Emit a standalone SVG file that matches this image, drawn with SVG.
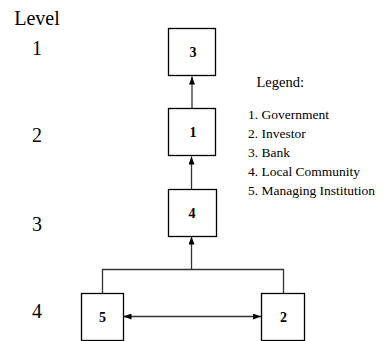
<svg xmlns="http://www.w3.org/2000/svg" width="386" height="341" viewBox="0 0 386 341">
  <defs>
    <style>
      .box { fill: #ffffff; stroke: #000000; stroke-width: 1.3; }
      .lbl { font-family: "Liberation Serif", "Times New Roman", serif; font-weight: bold; font-size: 14px; text-anchor: middle; fill: #000; }
      .lvl { font-family: "Liberation Serif", "Times New Roman", serif; font-size: 20px; text-anchor: middle; fill: #000; }
      .leg { font-family: "Liberation Serif", "Times New Roman", serif; font-size: 13.5px; fill: #000; }
      .wire { fill: none; stroke: #333333; stroke-width: 1.3; }
    </style>
    <marker id="head" viewBox="0 0 8 6" refX="8" refY="3" markerWidth="8" markerHeight="6" markerUnits="userSpaceOnUse" orient="auto-start-reverse">
      <path d="M0,0 L8,3 L0,6 Z" fill="#000"/>
    </marker>
  </defs>

  <rect width="386" height="341" fill="#ffffff"/>

  <!-- level scale -->
  <g id="levels">
    <text class="lvl" x="37" y="25">Level</text>
    <text class="lvl" x="37" y="55">1</text>
    <text class="lvl" x="37" y="142">2</text>
    <text class="lvl" x="37" y="231">3</text>
    <text class="lvl" x="37" y="318">4</text>
  </g>

  <!-- connectors -->
  <g id="connectors">
    <line class="wire" x1="192" y1="108.5" x2="192" y2="76.5" marker-end="url(#head)"/>
    <line class="wire" x1="191.5" y1="189.5" x2="191.5" y2="156.5" marker-end="url(#head)"/>
    <polyline class="wire" points="102.5,293.5 102.5,269.5 283.5,269.5 283.5,293.5"/>
    <line class="wire" x1="191.5" y1="269.5" x2="191.5" y2="236.5" marker-end="url(#head)"/>
    <line class="wire" x1="123.5" y1="316.5" x2="261" y2="316.5" marker-start="url(#head)" marker-end="url(#head)"/>
  </g>

  <g id="node-3">
    <rect class="box" x="168.5" y="28.5" width="47" height="47"/>
    <text class="lbl" x="193" y="57">3</text>
  </g>
  <g id="node-1">
    <rect class="box" x="168.5" y="108.5" width="47" height="47"/>
    <text class="lbl" x="193" y="137">1</text>
  </g>
  <g id="node-4">
    <rect class="box" x="168.5" y="189.5" width="48" height="47"/>
    <text class="lbl" x="192" y="217.5">4</text>
  </g>
  <g id="node-5">
    <rect class="box" x="81.5" y="293.5" width="42" height="47"/>
    <text class="lbl" x="102.5" y="322">5</text>
  </g>
  <g id="node-2">
    <rect class="box" x="261.5" y="293.5" width="43" height="47"/>
    <text class="lbl" x="283.5" y="322">2</text>
  </g>

  <!-- legend -->
  <g id="legend">
    <text class="leg" x="256.5" y="87" style="font-size:14.5px">Legend:</text>
    <text class="leg" x="248" y="119">1. Government</text>
    <text class="leg" x="248" y="138">2. Investor</text>
    <text class="leg" x="248" y="157">3. Bank</text>
    <text class="leg" x="248" y="176">4. Local Community</text>
    <text class="leg" x="248" y="195">5. Managing Institution</text>
  </g>
</svg>
